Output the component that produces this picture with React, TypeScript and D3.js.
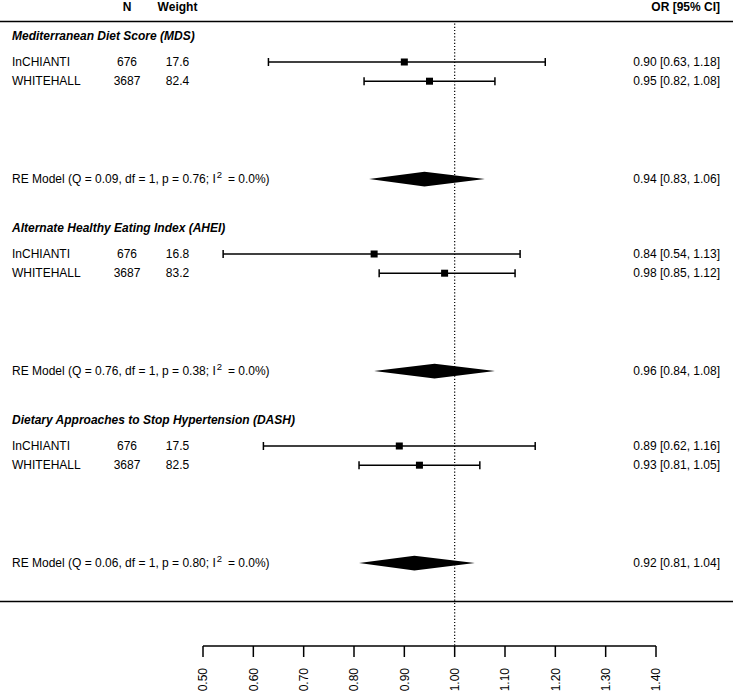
import React from "react";
import * as d3 from "d3";

const groups = [
  "Mediterranean Diet Score (MDS)",
  "Alternate Healthy Eating Index (AHEI)",
  "Dietary Approaches to Stop Hypertension (DASH)",
];
const studies = ["InCHIANTI", "WHITEHALL"];
const sampleN = [676, 3687];
const weights = [
  ["17.6", "82.4"],
  ["16.8", "83.2"],
  ["17.5", "82.5"],
];
const estimates = [
  [0.9, 0.95],
  [0.84, 0.98],
  [0.89, 0.93],
];
const lower = [
  [0.63, 0.82],
  [0.54, 0.85],
  [0.62, 0.81],
];
const upper = [
  [1.18, 1.08],
  [1.13, 1.12],
  [1.16, 1.05],
];
const reEst = [0.94, 0.96, 0.92];
const reLo = [0.83, 0.84, 0.81];
const reHi = [1.06, 1.08, 1.04];
const reQ = ["0.09", "0.76", "0.06"];
const reP = ["0.76", "0.38", "0.80"];
const reI2 = ["0.0", "0.0", "0.0"];
const tickValues = [0.5, 0.6, 0.7, 0.8, 0.9, 1.0, 1.1, 1.2, 1.3, 1.4];

const W = 733;
const H = 692;
const FONT = "'Liberation Sans', Arial, Helvetica, sans-serif";

export default function App() {
  const x = d3.scaleLinear().domain([0.5, 1.4]).range([203, 656]);
  const row = d3.scaleLinear().domain([0, 1]).range([62, 81.2]);
  const fmt = d3.format(".2f");
  const axisY = 646;
  const topLine = 21.5;
  const bottomLine = 601.5;
  const nX = 127;
  const wX = 177.5;
  const rightX = 720;
  const sq = 7;
  const cap = 4;
  const dh = 7.3;
  const sw = 1.5;

  const ci = (e: number, l: number, h: number) =>
    `${fmt(e)} [${fmt(l)}, ${fmt(h)}]`;

  return (
    <svg
      width={W}
      height={H}
      style={{ position: "absolute", left: 0, top: 0, background: "#fff" }}
      fontFamily={FONT}
      fontSize={12}
      fill="#000"
    >
      <rect width={W} height={H} fill="#fff" />
      {/* headers */}
      <text x={nX} y={7} dy="0.35em" textAnchor="middle" fontWeight="bold">N</text>
      <text x={wX} y={7} dy="0.35em" textAnchor="middle" fontWeight="bold">Weight</text>
      <text x={rightX} y={7} dy="0.35em" textAnchor="end" fontWeight="bold">OR [95% CI]</text>

      <line x1={0} x2={W} y1={topLine} y2={topLine} stroke="#000" strokeWidth={1.6} />
      <line x1={0} x2={W} y1={bottomLine} y2={bottomLine} stroke="#000" strokeWidth={1.6} />

      {/* reference line */}
      <line
        x1={x(1)}
        x2={x(1)}
        y1={topLine + 2}
        y2={axisY}
        stroke="#000"
        strokeWidth={1.2}
        strokeDasharray="1.2,2"
      />

      {groups.map((g, b) => {
        const base = b * 10;
        const yHead = row(base - 1.35);
        const yRE = row(base + 6.1);
        const diamond = [
          [x(reLo[b]), yRE],
          [x(reEst[b]), yRE - dh],
          [x(reHi[b]), yRE],
          [x(reEst[b]), yRE + dh],
        ];
        return (
          <g key={g}>
            <text x={12} y={yHead} dy="0.35em" fontWeight="bold" fontStyle="italic">
              {g}
            </text>
            {studies.map((s, i) => {
              const y = row(base + i);
              return (
                <g key={s}>
                  <text x={12} y={y} dy="0.35em">{s}</text>
                  <text x={nX} y={y} dy="0.35em" textAnchor="middle">{sampleN[i]}</text>
                  <text x={wX} y={y} dy="0.35em" textAnchor="middle">{weights[b][i]}</text>
                  <line x1={x(lower[b][i])} x2={x(upper[b][i])} y1={y} y2={y} stroke="#000" strokeWidth={sw} />
                  <line x1={x(lower[b][i])} x2={x(lower[b][i])} y1={y - cap} y2={y + cap} stroke="#000" strokeWidth={sw} />
                  <line x1={x(upper[b][i])} x2={x(upper[b][i])} y1={y - cap} y2={y + cap} stroke="#000" strokeWidth={sw} />
                  <rect x={x(estimates[b][i]) - sq / 2} y={y - sq / 2} width={sq} height={sq} fill="#000" />
                  <text x={rightX} y={y} dy="0.35em" textAnchor="end">
                    {ci(estimates[b][i], lower[b][i], upper[b][i])}
                  </text>
                </g>
              );
            })}
            <text x={12} y={yRE + 4.2}>
              {`RE Model (Q = ${reQ[b]}, df = 1, p = ${reP[b]}; I`}
              <tspan dy={-5} dx={1} fontSize={9.5}>2</tspan>
              <tspan dy={5} dx={2.5}>{` = ${reI2[b]}%)`}</tspan>
            </text>
            <polygon points={diamond.map((p) => p.join(",")).join(" ")} fill="#000" />
            <text x={rightX} y={yRE} dy="0.35em" textAnchor="end">
              {ci(reEst[b], reLo[b], reHi[b])}
            </text>
          </g>
        );
      })}

      {/* axis */}
      <line x1={x(0.5)} x2={x(1.4)} y1={axisY} y2={axisY} stroke="#000" strokeWidth={sw} />
      {tickValues.map((t) => (
        <g key={t}>
          <line x1={x(t)} x2={x(t)} y1={axisY} y2={axisY + 11} stroke="#000" strokeWidth={sw} />
          <text
            transform={`translate(${x(t)},${668}) rotate(-90)`}
            textAnchor="end"
            dy="0.35em"
          >
            {fmt(t)}
          </text>
        </g>
      ))}
    </svg>
  );
}
